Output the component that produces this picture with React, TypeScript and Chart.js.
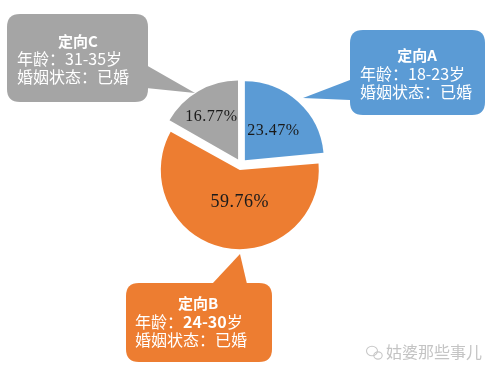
import React, { useEffect, useRef } from 'react';
import { Chart, registerables } from 'chart.js';

Chart.register(...registerables);

// ---- data ----
const categories = ['定向A', '定向B', '定向C'];
const shares = [23.47, 59.76, 16.77];
const ageRanges = ['18-23', '24-30', '31-35'];
const maritalStatus = ['已婚', '已婚', '已婚'];
const sliceColors = ['#5B9BD5', '#ED7D31', '#A5A5A5'];
const ageLabel = '年龄：';
const maritalLabel = '婚姻状态：';
const ageUnit = '岁';
const watermarkText = '姑婆那些事儿';

// ---- styling / layout ----
const EXPLODE = 23;
const CJK = '"Noto Sans CJK SC", "Noto Sans", sans-serif';
const labelPlacement = [
  { frac: 0.52, rot: 2, size: 16 },
  { frac: 0.44, rot: -12, size: 18 },
  { frac: 0.64, rot: -2, size: 16 },
];
const calloutLayout = [
  { x: 350, y: 30, w: 135, h: 85, tip: [[350, 80], [303, 98], [350, 100]], titleX: 417, titleY: 55, left: 360, l2: 74, l3: 92, ageBold: false },
  { x: 126, y: 283, w: 146, h: 79, tip: [[212, 284], [240, 254], [247, 284]], titleX: 198, titleY: 303, left: 135, l2: 322, l3: 340, ageBold: true },
  { x: 7, y: 14, w: 141, h: 88, tip: [[146, 65], [195, 93], [146, 88]], titleX: 78, titleY: 41, left: 17, l2: 59, l3: 77, ageBold: false },
];

function roundRect(ctx: CanvasRenderingContext2D, x: number, y: number, w: number, h: number, r: number) {
  ctx.beginPath();
  ctx.moveTo(x + r, y);
  ctx.lineTo(x + w - r, y);
  ctx.quadraticCurveTo(x + w, y, x + w, y + r);
  ctx.lineTo(x + w, y + h - r);
  ctx.quadraticCurveTo(x + w, y + h, x + w - r, y + h);
  ctx.lineTo(x + r, y + h);
  ctx.quadraticCurveTo(x, y + h, x, y + h - r);
  ctx.lineTo(x, y + r);
  ctx.quadraticCurveTo(x, y, x + r, y);
  ctx.closePath();
}

const explodeFix = {
  id: 'explodeFix',
  afterDatasetUpdate(chart: any, args: any) {
    const t = EXPLODE / 4;
    args.meta.data.forEach((arc: any) => {
      const fix = 1 - Math.sin(Math.min(Math.PI, arc.circumference || 0));
      arc.outerRadius = arc.outerRadius - t * fix;
    });
  },
};

const callouts = {
  id: 'callouts',
  beforeDatasetsDraw(chart: any) {
    const ctx: CanvasRenderingContext2D = chart.ctx;
    ctx.save();
    calloutLayout.forEach((c, i) => {
      ctx.fillStyle = sliceColors[i];
      roundRect(ctx, c.x, c.y, c.w, c.h, 13);
      ctx.fill();
      ctx.beginPath();
      ctx.moveTo(c.tip[0][0], c.tip[0][1]);
      ctx.lineTo(c.tip[1][0], c.tip[1][1]);
      ctx.lineTo(c.tip[2][0], c.tip[2][1]);
      ctx.closePath();
      ctx.fill();

      ctx.fillStyle = '#ffffff';
      ctx.textBaseline = 'middle';
      ctx.textAlign = 'center';
      ctx.font = `bold 15px ${CJK}`;
      ctx.fillText(categories[i], c.titleX, c.titleY);

      ctx.textAlign = 'left';
      ctx.font = `16px ${CJK}`;
      let x = c.left;
      ctx.fillText(ageLabel, x, c.l2);
      x += ctx.measureText(ageLabel).width;
      ctx.font = `${c.ageBold ? 'bold ' : ''}16px ${CJK}`;
      ctx.fillText(ageRanges[i], x, c.l2);
      x += ctx.measureText(ageRanges[i]).width;
      ctx.font = `16px ${CJK}`;
      ctx.fillText(ageUnit, x, c.l2);
      ctx.fillText(maritalLabel + maritalStatus[i], c.left, c.l3);
    });

    // watermark
    ctx.strokeStyle = '#c8c8c8';
    ctx.lineWidth = 1.1;
    ctx.beginPath();
    ctx.ellipse(372, 351, 5.5, 4.8, 0, 0, Math.PI * 2);
    ctx.stroke();
    ctx.beginPath();
    ctx.ellipse(378, 355.5, 4.2, 3.6, 0, 0, Math.PI * 2);
    ctx.stroke();
    ctx.fillStyle = '#c4c4c4';
    ctx.font = `16px ${CJK}`;
    ctx.textAlign = 'left';
    ctx.textBaseline = 'middle';
    ctx.fillText(watermarkText, 386, 352);
    ctx.restore();
  },
};

const sliceLabels = {
  id: 'sliceLabels',
  afterDatasetsDraw(chart: any) {
    const ctx: any = chart.ctx;
    const meta = chart.getDatasetMeta(0);
    const t = EXPLODE / 4;
    ctx.save();
    meta.data.forEach((arc: any, i: number) => {
      const p = labelPlacement[i];
      const mid = (arc.startAngle + arc.endAngle) / 2;
      const cx = arc.x + Math.cos(mid) * t;
      const cy = arc.y + Math.sin(mid) * t;
      const a = mid + (p.rot * Math.PI) / 180;
      const d = arc.outerRadius * p.frac;
      ctx.fillStyle = '#1a1a1a';
      ctx.font = `${p.size}px "Liberation Serif", "DejaVu Serif", serif`;
      ctx.letterSpacing = '0.5px';
      ctx.textAlign = 'center';
      ctx.textBaseline = 'middle';
      ctx.fillText(shares[i].toFixed(2) + '%', cx + Math.cos(a) * d, cy + Math.sin(a) * d);
    });
    ctx.restore();
  },
};

export default function App() {
  const ref = useRef<HTMLCanvasElement | null>(null);
  useEffect(() => {
    if (!ref.current) return;
    const chart = new Chart(ref.current, {
      type: 'pie',
      data: {
        labels: categories,
        datasets: [
          {
            data: shares,
            backgroundColor: sliceColors,
            borderWidth: 0,
            offset: EXPLODE,
            hoverOffset: 0,
          },
        ],
      },
      options: {
        responsive: false,
        animation: false,
        radius: 79,
        layout: { padding: { left: 0, right: 12, top: 0, bottom: 47 } },
        plugins: {
          legend: { display: false },
          tooltip: { enabled: false },
        },
        events: [],
      } as any,
      plugins: [explodeFix, callouts, sliceLabels],
    });
    return () => chart.destroy();
  }, []);
  return (
    <div style={{ position: 'fixed', left: 0, top: 0, width: 494, height: 376, background: '#ffffff' }}>
      <canvas ref={ref} width={494} height={376} style={{ width: 494, height: 376, display: 'block' }} />
    </div>
  );
}
